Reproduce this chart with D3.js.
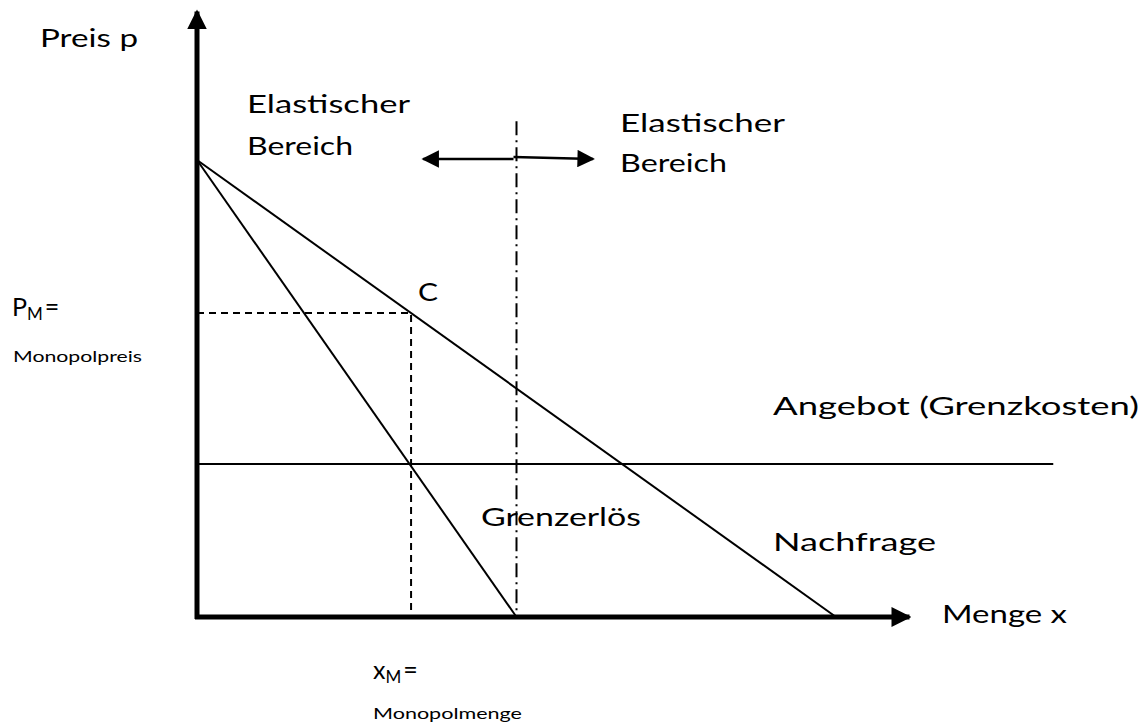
<!DOCTYPE html>
<html>
<head>
<meta charset="utf-8">
<script src="https://cdn.jsdelivr.net/npm/d3@7"></script>
<style>
  body { margin: 0; background: #fff; }
  text { font-family: "Lato", "Open Sans", sans-serif; fill: #000; }
</style>
</head>
<body>
<div id="chart"></div>
<script>
// values (quantity x, price p)
var demand = [[0, 10], [10, 0]];          // Nachfrage
var marginalRevenue = [[0, 10], [5, 0]];  // Grenzerlös
var marginalCost = 3.35;                  // Angebot (Grenzkosten)
var mcEnd = 13.4;
var monopolyQty = 3.35;                   // x_M
var monopolyPrice = 6.65;                 // p_M
var unitElastic = 5;                      // dash-dot line
var unitTop = 10.85;
var xAxisMax = 11.15, yAxisMax = 13.25;

var width = 1145, height = 726;

var x = d3.scaleLinear().domain([0, 10]).range([197, 836]);
var y = d3.scaleLinear().domain([0, 10]).range([617, 160]);

var svg = d3.select("#chart").append("svg")
    .attr("width", width)
    .attr("height", height);

var defs = svg.append("defs");
defs.append("marker")
    .attr("id", "head")
    .attr("viewBox", "0 0 10 10")
    .attr("refX", 9).attr("refY", 5)
    .attr("markerWidth", 4).attr("markerHeight", 4)
    .attr("markerUnits", "strokeWidth")
    .attr("orient", "auto")
  .append("path").attr("d", "M0,0L10,5L0,10Z").attr("fill", "#000");
defs.append("marker")
    .attr("id", "smallhead")
    .attr("viewBox", "0 0 10 10")
    .attr("refX", 9).attr("refY", 5)
    .attr("markerWidth", 9).attr("markerHeight", 7)
    .attr("markerUnits", "strokeWidth")
    .attr("orient", "auto")
  .append("path").attr("d", "M0,0L10,5L0,10Z").attr("fill", "#000");

var line = d3.line()
    .x(function(d) { return x(d[0]); })
    .y(function(d) { return y(d[1]); });

// dashed helper lines to C
svg.append("path")
    .attr("d", line([[0, monopolyPrice], [monopolyQty, monopolyPrice], [monopolyQty, 0]]))
    .attr("fill", "none").attr("stroke", "#000").attr("stroke-width", 2)
    .attr("stroke-dasharray", "7,5");

// dash-dot line at unit elasticity
svg.append("path")
    .attr("d", line([[unitElastic, unitTop], [unitElastic, 0]]))
    .attr("fill", "none").attr("stroke", "#000").attr("stroke-width", 2)
    .attr("stroke-dasharray", "14,5,2,5");

// curves
[demand, marginalRevenue, [[0, marginalCost], [mcEnd, marginalCost]]].forEach(function(pts) {
  svg.append("path")
      .attr("d", line(pts))
      .attr("fill", "none").attr("stroke", "#000").attr("stroke-width", 2);
});

// double arrow (elastic / inelastic)
var arrowY = 10.0;
svg.append("line")
    .attr("x1", x(unitElastic) - 3).attr("y1", y(arrowY) - 1)
    .attr("x2", x(3.54)).attr("y2", y(arrowY) - 1)
    .attr("stroke", "#000").attr("stroke-width", 2.5)
    .attr("marker-end", "url(#smallhead)");
svg.append("line")
    .attr("x1", x(unitElastic) - 3).attr("y1", y(arrowY) - 3)
    .attr("x2", x(6.2)).attr("y2", y(arrowY) - 1)
    .attr("stroke", "#000").attr("stroke-width", 2.5)
    .attr("marker-end", "url(#smallhead)");

// axes
svg.append("line")
    .attr("x1", x(0)).attr("y1", y(0) + 2)
    .attr("x2", x(0)).attr("y2", y(yAxisMax))
    .attr("stroke", "#000").attr("stroke-width", 5)
    .attr("marker-end", "url(#head)");
svg.append("line")
    .attr("x1", x(0) - 2).attr("y1", y(0))
    .attr("x2", x(xAxisMax)).attr("y2", y(0))
    .attr("stroke", "#000").attr("stroke-width", 5)
    .attr("marker-end", "url(#head)");

// labels (widths stretched to the handwritten originals)
function label(tx, ty, s, size, len) {
  var t = svg.append("text").attr("x", tx).attr("y", ty)
      .style("font-size", size + "px").text(s);
  if (len) t.attr("textLength", len).attr("lengthAdjust", "spacingAndGlyphs");
  return t;
}
label(40, 47, "Preis p", 25, 98);
label(247, 113, "Elastischer", 25, 163);
label(247, 155, "Bereich", 25, 106);
label(620, 132, "Elastischer", 25, 165);
label(620, 172, "Bereich", 25, 107);
label(418, 301, "C", 25, 20);
label(773, 415, "Angebot (Grenzkosten)", 25, 366);
label(481, 526, "Grenzerlös", 25, 160);
label(773, 551, "Nachfrage", 25, 163);
label(942, 623, "Menge x", 25, 125);

var pm = label(12, 316, "P", 25);
pm.append("tspan").attr("dy", 4).style("font-size", "17px").text("M");
pm.append("tspan").attr("dy", -4).attr("dx", 2).text("=");
label(13, 362, "Monopolpreis", 16, 129);

var xm = label(373, 679, "x", 25);
xm.append("tspan").attr("dy", 4).style("font-size", "17px").text("M");
xm.append("tspan").attr("dy", -4).attr("dx", 2).text("=");
label(373, 719, "Monopolmenge", 16, 149);
</script>
</body>
</html>
